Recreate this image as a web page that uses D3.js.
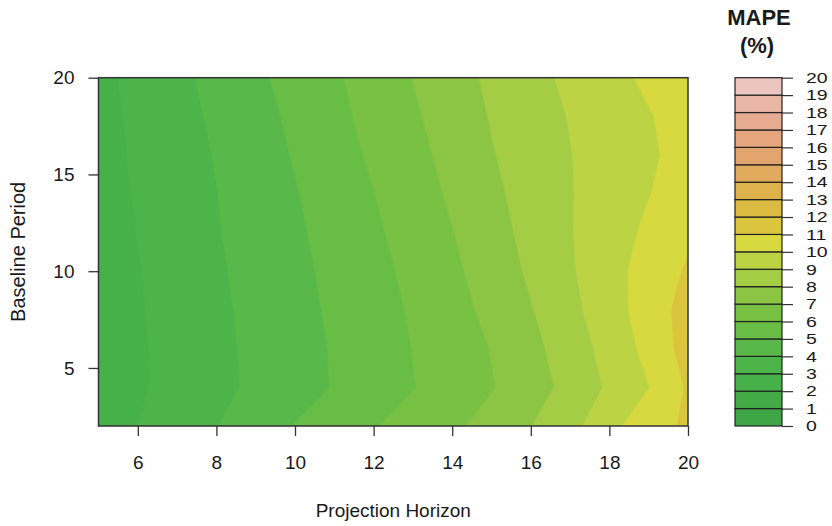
<!DOCTYPE html>
<html>
<head>
<meta charset="utf-8">
<script src="https://cdn.jsdelivr.net/npm/d3@7"></script>
<style>
  html, body { margin: 0; padding: 0; background: #fff; }
  svg { display: block; }
  text { font-family: "Liberation Sans", Arial, sans-serif; fill: #1a1a1a; }
</style>
</head>
<body>
<svg id="chart" width="832" height="526"></svg>
<script>
// grid columns (projection horizon) and rows (baseline period)
const horizons = [5, 6, 7, 8, 9, 10, 11, 12, 13, 14, 15, 16, 17, 18, 19, 20]
const baselines = [2, 4, 6, 8, 10, 12, 14, 16, 18, 20]

// MAPE (%), one row per baseline period (bottom row first)
const mape = [
  [2.52, 3.01, 3.50, 3.98, 4.51, 5.03, 5.48, 5.93, 6.37, 6.81, 7.35, 7.98, 8.66, 9.74, 10.53, 11.18],
  [2.45, 2.88, 3.31, 3.74, 4.18, 4.61, 5.05, 5.51, 5.96, 6.45, 6.94, 7.57, 8.30, 9.15, 9.98, 11.12],
  [2.44, 2.88, 3.32, 3.76, 4.20, 4.64, 5.08, 5.55, 6.02, 6.52, 7.03, 7.72, 8.49, 9.35, 10.29, 11.38],
  [2.47, 2.92, 3.37, 3.81, 4.26, 4.70, 5.15, 5.62, 6.10, 6.65, 7.25, 7.94, 8.72, 9.58, 10.45, 11.40],
  [2.51, 2.96, 3.42, 3.87, 4.32, 4.76, 5.23, 5.71, 6.23, 6.80, 7.46, 8.15, 8.88, 9.66, 10.39, 11.12],
  [2.57, 3.02, 3.48, 3.94, 4.39, 4.85, 5.34, 5.84, 6.39, 6.97, 7.63, 8.29, 8.95, 9.56, 10.18, 10.79],
  [2.62, 3.08, 3.53, 3.98, 4.46, 4.94, 5.46, 5.98, 6.55, 7.14, 7.79, 8.38, 8.95, 9.46, 9.97, 10.47],
  [2.67, 3.13, 3.59, 4.06, 4.56, 5.07, 5.60, 6.15, 6.70, 7.30, 7.94, 8.46, 8.97, 9.42, 9.87, 10.32],
  [2.71, 3.19, 3.67, 4.16, 4.67, 5.19, 5.74, 6.29, 6.86, 7.46, 8.06, 8.56, 9.05, 9.50, 9.94, 10.38],
  [2.76, 3.27, 3.77, 4.29, 4.81, 5.34, 5.86, 6.43, 7.02, 7.62, 8.18, 8.69, 9.20, 9.69, 10.18, 10.67]
]

const levels = [0, 1, 2, 3, 4, 5, 6, 7, 8, 9, 10, 11, 12, 13, 14, 15, 16, 17, 18, 19, 20]
const levelColors = [
  '#3ea645', '#42ab46', '#46b049', '#4cb448', '#58b94a', '#68bd45', '#79c143', '#8bc543',
  '#a4cc44', '#bcd444', '#d7d93e', '#dac53c', '#dcbb42', '#dfb24c', '#e1aa5c', '#e3a56d',
  '#e5a67e', '#e7ab91', '#e9b6a6', '#ecc5c0'
]
const xTicks = [6, 8, 10, 12, 14, 16, 18, 20]
const yTicks = [5, 10, 15, 20]

const PLOT = { left: 98.5, right: 688, top: 77.7, bottom: 426 }
const KEY = { left: 735, right: 782 }
const TICK = 10

const x = d3.scaleLinear().domain([5, 20]).range([PLOT.left, PLOT.right])
const y = d3.scaleLinear().domain([2, 20]).range([PLOT.bottom, PLOT.top])
const ky = d3.scaleLinear().domain([0, 20]).range([PLOT.bottom, PLOT.top])

const svg = d3.select('#chart')

svg.append('clipPath')
  .attr('id', 'plot-clip')
  .append('rect')
  .attr('x', PLOT.left)
  .attr('y', PLOT.top)
  .attr('width', PLOT.right - PLOT.left)
  .attr('height', PLOT.bottom - PLOT.top)

// filled contours; d3.contours puts value i at grid coordinate i + 0.5
const stepX = horizons[1] - horizons[0]
const stepY = baselines[1] - baselines[0]
const gridToPx = d3.geoTransform({
  point (gx, gy) {
    this.stream.point(x(horizons[0] + (gx - 0.5) * stepX), y(baselines[0] + (gy - 0.5) * stepY))
  }
})
const path = d3.geoPath(gridToPx)
const bands = d3.contours()
  .size([horizons.length, baselines.length])
  .thresholds(levels.slice(0, -1))(mape.flat())

svg.append('g')
  .attr('clip-path', 'url(#plot-clip)')
  .selectAll('path')
  .data(bands)
  .join('path')
  .attr('d', path)
  .attr('fill', d => levelColors[d.value])
  .attr('stroke', d => levelColors[d.value])
  .attr('stroke-width', 0.6)

svg.append('rect')
  .attr('x', PLOT.left)
  .attr('y', PLOT.top)
  .attr('width', PLOT.right - PLOT.left)
  .attr('height', PLOT.bottom - PLOT.top)
  .attr('fill', 'none')
  .attr('stroke', '#333')
  .attr('stroke-width', 1.5)

// axes
const xAxis = svg.append('g')
  .attr('transform', `translate(0, ${PLOT.bottom})`)
  .call(d3.axisBottom(x).tickValues(xTicks).tickSize(TICK).tickPadding(20))
const yAxis = svg.append('g')
  .attr('transform', `translate(${PLOT.left}, 0)`)
  .call(d3.axisLeft(y).tickValues(yTicks).tickSize(TICK).tickPadding(14))
for (const ax of [xAxis, yAxis]) {
  ax.select('.domain').remove()
  ax.selectAll('line').attr('stroke', '#333').attr('stroke-width', 1.3)
  ax.selectAll('text').attr('font-size', 19).attr('fill', '#1a1a1a')
}

svg.append('text')
  .attr('x', (PLOT.left + PLOT.right) / 2)
  .attr('y', 517)
  .attr('text-anchor', 'middle')
  .attr('font-size', 19)
  .text('Projection Horizon')

svg.append('text')
  .attr('transform', `translate(25, ${(PLOT.top + PLOT.bottom) / 2}) rotate(-90)`)
  .attr('text-anchor', 'middle')
  .attr('font-size', 20)
  .text('Baseline Period')

// colour key
svg.append('g')
  .selectAll('rect')
  .data(levels.slice(0, -1))
  .join('rect')
  .attr('x', KEY.left)
  .attr('width', KEY.right - KEY.left)
  .attr('y', d => ky(d + 1))
  .attr('height', d => ky(d) - ky(d + 1))
  .attr('fill', d => levelColors[d])
  .attr('stroke', '#222')
  .attr('stroke-width', 1.2)

const keyAxis = svg.append('g')
  .attr('transform', `translate(${KEY.right}, 0)`)
  .call(d3.axisRight(ky).tickValues(levels).tickSize(11).tickPadding(13))
keyAxis.select('.domain').remove()
keyAxis.selectAll('line').attr('stroke', '#333').attr('stroke-width', 1.2)
// key labels are set tight and wide in the original
keyAxis.selectAll('text')
  .attr('font-size', 15)
  .attr('fill', '#1a1a1a')
  .attr('x', 0)
  .attr('transform', 'translate(24, 0) scale(1.3, 1)')

svg.append('text')
  .attr('x', 759)
  .attr('y', 25)
  .attr('text-anchor', 'middle')
  .attr('font-size', 22)
  .attr('font-weight', 'bold')
  .text('MAPE')
svg.append('text')
  .attr('x', 757)
  .attr('y', 53)
  .attr('text-anchor', 'middle')
  .attr('font-size', 22)
  .attr('font-weight', 'bold')
  .text('(%)')
</script>
</body>
</html>
